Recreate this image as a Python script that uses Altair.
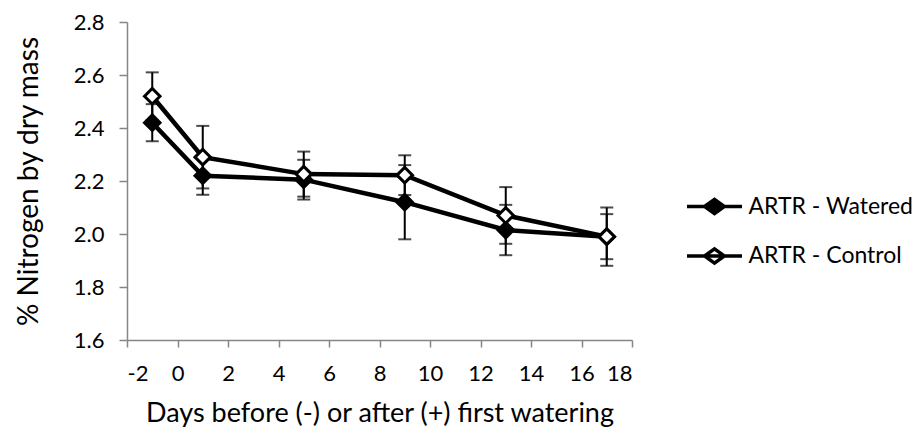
import altair as alt
import pandas as pd

days = [-1, 1, 5, 9, 13, 17]
watered = [2.42, 2.22, 2.205, 2.12, 2.015, 1.99]
watered_err = [0.07, 0.072, 0.075, 0.14, 0.095, 0.085]
control = [2.52, 2.29, 2.226, 2.222, 2.07, 1.99]
control_err = [0.09, 0.118, 0.085, 0.075, 0.107, 0.11]
series_names = ["ARTR - Watered", "ARTR - Control"]
x_ticks = list(range(-2, 19, 2))
y_ticks = [1.6, 1.8, 2.0, 2.2, 2.4, 2.6, 2.8]

rows = []
for name, vals, errs in [(series_names[0], watered, watered_err),
                         (series_names[1], control, control_err)]:
    for d, v, e in zip(days, vals, errs):
        rows.append({"day": d, "value": v, "lo": v - e, "hi": v + e, "series": name})
df = pd.DataFrame(rows)

FONT = "Lato"
xs = alt.Scale(domain=[-2, 18], nice=False, zero=False)
ys = alt.Scale(domain=[1.6, 2.8], nice=False, zero=False)

x_enc = alt.X("day:Q", scale=xs,
              axis=alt.Axis(values=x_ticks, title="Days before (-) or after (+) first watering",
                            labelExpr="replace(datum.label, '\u2212', '-')",
                            grid=False, domainColor="#868686", tickColor="#868686",
                            domainWidth=1.5, tickWidth=1.5, tickSize=7,
                            labelFont=FONT, labelFontSize=22, labelColor="black",
                            labelPadding=16, titleFont=FONT, titleFontSize=27,
                            titleFontWeight="normal", titleColor="black", titlePadding=16))
y_enc = alt.Y("value:Q", scale=ys,
              axis=alt.Axis(values=y_ticks, format=".1f", title="% Nitrogen by dry mass",
                            grid=False, domainColor="#868686", tickColor="#868686",
                            domainWidth=1.5, tickWidth=1.5, tickSize=8,
                            labelFont=FONT, labelFontSize=22, labelColor="black",
                            labelPadding=15, titleFont=FONT, titleFontSize=28,
                            titleFontWeight="normal", titleColor="black", titlePadding=30))

base = alt.Chart(df)

rules = base.mark_rule(color="black", strokeWidth=2).encode(
    x=alt.X("day:Q", scale=xs), y=alt.Y("lo:Q", scale=ys), y2="hi:Q", detail="series:N")
caps_lo = base.mark_tick(color="black", orient="horizontal", size=13, thickness=2).encode(
    x=alt.X("day:Q", scale=xs), y=alt.Y("lo:Q", scale=ys))
caps_hi = base.mark_tick(color="black", orient="horizontal", size=13, thickness=2).encode(
    x=alt.X("day:Q", scale=xs), y=alt.Y("hi:Q", scale=ys))

lines = base.mark_line(color="black", strokeWidth=4.5).encode(
    x=x_enc, y=y_enc, detail="series:N")

legend_path = "M-2,0L2,0M-0.72,0L0,-0.52L0.72,0L0,0.52Z"
points = base.mark_point(shape="diamond", filled=True, size=240, stroke="black",
                         strokeWidth=3, opacity=1).encode(
    x=alt.X("day:Q", scale=xs), y=alt.Y("value:Q", scale=ys),
    fill=alt.Fill("series:N",
                  scale=alt.Scale(domain=series_names, range=["black", "white"]),
                  legend=alt.Legend(title=None, orient="none", legendX=572, legendY=169,
                                    symbolType=legend_path, symbolSize=756,
                                    symbolStrokeColor="black", symbolStrokeWidth=3.5,
                                    symbolOpacity=1, rowPadding=19.5, padding=0,
                                    labelOffset=18.5, labelFont=FONT, labelFontSize=23,
                                    labelColor="black", labelLimit=300)))

chart = alt.layer(rules, caps_lo, caps_hi, lines, points).properties(
    width=505, height=318,
    autosize=alt.AutoSizeParams(type="none"),
    padding={"left": 127, "top": 22, "right": 287, "bottom": 99},
    background="white",
).configure_view(stroke=None)

chart.save("out.html", embed_options={"renderer": "svg", "actions": False})
